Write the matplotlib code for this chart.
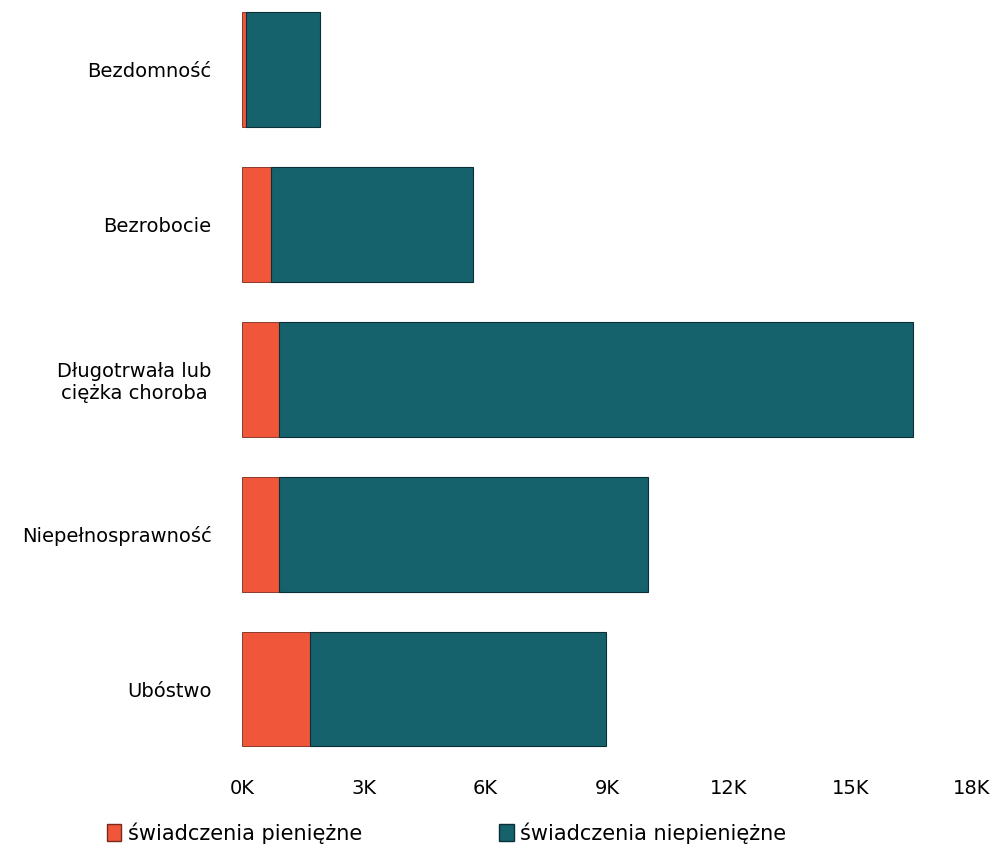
import matplotlib.pyplot as plt
from matplotlib.patches import Patch

categories = ["Bezdomność", "Bezrobocie", "Długotrwała lub\nciężka choroba",
              "Niepełnosprawność", "Ubóstwo"]
cash = [0.1, 0.72, 0.9, 0.92, 1.67]
totals = [1.92, 5.69, 16.55, 10.0, 8.97]
non_cash = [t - c for t, c in zip(totals, cash)]
ticks = [0, 3, 6, 9, 12, 15, 18]
tick_labels = ["0K", "3K", "6K", "9K", "12K", "15K", "18K"]
series_names = ["świadczenia pieniężne", "świadczenia niepieniężne"]

red = "#f0563a"
teal = "#15626c"

fig = plt.figure(figsize=(10, 8.5), dpi=100)
ax = fig.add_axes([0.242, 0.1, 0.73, 0.9])

y = range(len(categories))
ax.barh(y, cash, height=0.74, color=red, edgecolor="#7a2a1a", linewidth=0.6)
ax.barh(y, non_cash, left=cash, height=0.74, color=teal, edgecolor="#0b2f36", linewidth=0.8)

ax.set_ylim(4.49, -0.45)
ax.set_xlim(0, 18)
ax.set_yticks(list(y))
ax.set_yticklabels(categories, fontsize=14, multialignment="center")
ax.set_xticks(ticks)
ax.set_xticklabels(tick_labels, fontsize=14)
ax.tick_params(length=0)
ax.tick_params(axis="y", pad=22)
ax.tick_params(axis="x", pad=10)
for s in ax.spines.values():
    s.set_visible(False)

handles = [Patch(facecolor=red, edgecolor="#7a2a1a"), Patch(facecolor=teal, edgecolor="#0b2f36")]
fig.legend(handles, series_names, loc="lower left", bbox_to_anchor=(0.088, -0.015),
           ncol=2, frameon=False, fontsize=15, handlelength=0.7, handleheight=0.9,
           handletextpad=0.3, columnspacing=6.6)

fig.savefig("out.png", dpi=100)
